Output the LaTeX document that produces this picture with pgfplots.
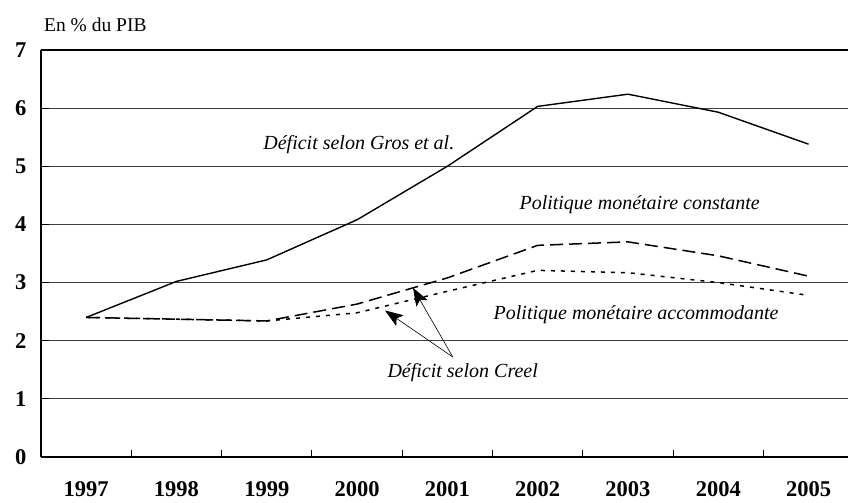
\documentclass[border=0pt]{standalone}
\usepackage{fontspec}
\setmainfont{Liberation Serif}
\usepackage{pgfplots}
\pgfplotsset{compat=1.18}
\usetikzlibrary{arrows.meta}
\begin{document}
\begin{tikzpicture}[x=1bp,y=1bp]
\path[use as bounding box] (-41,-46) rectangle (807,457);
\begin{axis}[
  at={(0,0)}, anchor=south west,
  scale only axis,
  width=807bp, height=407bp,
  xmin=-0.5, xmax=8.437,
  ymin=0, ymax=7,
  axis x line*=bottom, axis y line*=left,
  axis line style={line width=1.3bp, -},
  xtick={0,...,8},
  xticklabels={1997,1998,1999,2000,2001,2002,2003,2004,2005},
  major x tick style={draw=none},
  minor xtick={0.5,1.5,...,7.5},
  minor tick length=7bp,
  minor x tick style={black, line width=1bp},
  ytick={0,...,7},
  major tick length=8bp,
  tick align=inside,
  y tick style={black, line width=1bp},
  ymajorgrids,
  grid style={line width=0.8bp, black!75},
  /pgf/number format/assume math mode=true,
  tick label style={font=\fontsize{22.5bp}{26bp}\selectfont\bfseries},
  xticklabel style={yshift=-21bp},
  yticklabel style={xshift=-11bp},
  clip=false,
]
\addplot[black, line width=1.4bp] coordinates {
 (0,2.40) (1,3.02) (2,3.39) (3,4.08) (4,5.00) (5,6.03) (6,6.24) (7,5.93) (8,5.38)};
\addplot[black, line width=1.5bp, dash pattern=on 13bp off 6bp] coordinates {
 (0,2.40) (1,2.37) (2,2.34) (3,2.63) (4,3.08) (5,3.64) (6,3.70) (7,3.46) (8,3.11)};
\addplot[black, line width=1.5bp, dash pattern=on 4bp off 6bp] coordinates {
 (0,2.40) (1,2.37) (2,2.34) (3,2.48) (4,2.85) (5,3.21) (6,3.17) (7,3.00) (8,2.78)};
\draw[black, line width=1.3bp] (axis cs:-0.5,7) -- (axis cs:8.437,7);
\draw[line width=0.6bp, -{Stealth[length=18bp,width=13bp,inset=4bp]}] (axis cs:4.06,1.72) -- (axis cs:3.31,2.52);
\draw[line width=0.6bp, -{Stealth[length=18bp,width=13bp,inset=4bp]}] (axis cs:4.06,1.72) -- (axis cs:3.62,2.91);
\node[font=\fontsize{20bp}{24bp}\selectfont\itshape] at (axis cs:4.17,1.46) {Déficit selon Creel};
\node[font=\fontsize{20bp}{24bp}\selectfont\itshape] at (axis cs:3.02,5.38) {Déficit selon Gros et al.};
\node[font=\fontsize{20bp}{24bp}\selectfont\itshape] at (axis cs:6.13,4.34) {Politique monétaire constante};
\node[font=\fontsize{20bp}{24bp}\selectfont\itshape] at (axis cs:6.09,2.45) {Politique monétaire accommodante};
\node[anchor=base west, inner sep=0, font=\fontsize{19.5bp}{22bp}\selectfont] at ([xshift=3bp,yshift=18bp]rel axis cs:0,1) {En \% du PIB};
\end{axis}
\end{tikzpicture}
\end{document}
